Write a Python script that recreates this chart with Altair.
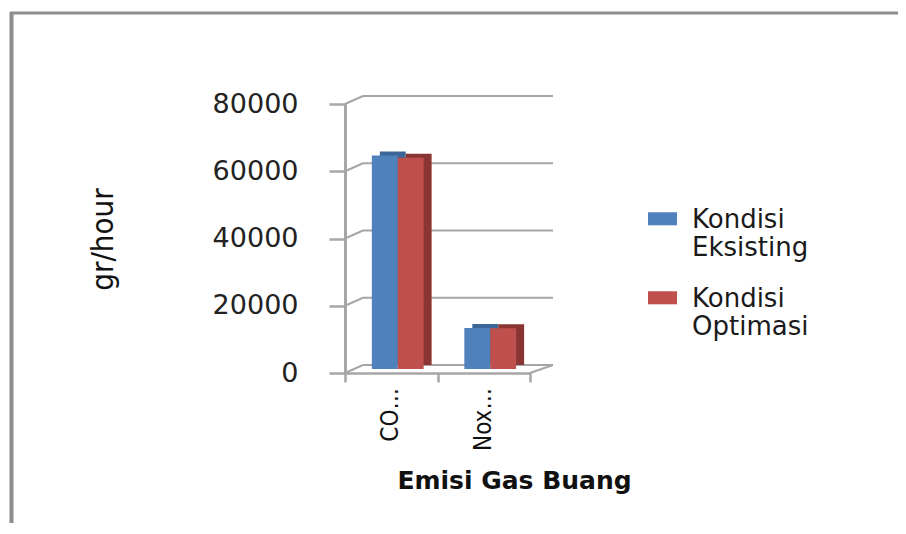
import altair as alt
import pandas as pd

# ---- data ----
categories = ["CO…", "Nox…"]
series = ["Kondisi Eksisting", "Kondisi Optimasi"]
eksisting = [63500, 12200]
optimasi = [62800, 12100]
y_ticks = [0, 20000, 40000, 60000, 80000]

rows = []
for ci, c in enumerate(categories):
    for si, (s, vals) in enumerate(zip(series, [eksisting, optimasi])):
        rows.append({"cat": c, "cat_idx": ci, "series": s, "series_idx": si, "value": vals[ci]})
df = pd.DataFrame(rows)
cat_df = pd.DataFrame({"cat": categories, "cat_idx": list(range(len(categories)))})
tick_df = pd.DataFrame({"tick": y_ticks})

W, H = 185, 269
GRID = "#a6a6a6"
NARROW = "Liberation Sans Narrow, DejaVu Sans Condensed, Roboto, sans-serif"
WIDE = "DejaVu Sans, Verdana, sans-serif"

yscale = alt.Scale(domain=[0, 80000], nice=False)
xscale = alt.Scale(domain=[0, 2], nice=False, zero=False)

yax = alt.Axis(
    values=y_ticks, grid=False, tickSize=16, tickColor=GRID, tickWidth=2.5,
    domainColor=GRID, domainWidth=3, labelFont=WIDE, labelFontSize=27,
    labelColor="#222", labelPadding=31, format="d",
    title="gr/hour", titleFont=NARROW, titleFontSize=31, titleFontWeight="normal",
    titleColor="#111", titleAngle=270, titleX=-242, titleY=135,
    titleAlign="center", titleBaseline="middle",
)
xax = alt.Axis(
    values=[0, 1, 2], labels=False, grid=False, ticks=True, tickSize=9,
    tickColor=GRID, tickWidth=2.5, domainColor=GRID, domainWidth=2.5,
    title="Emisi Gas Buang", titleFont=WIDE, titleFontSize=25, titleFontWeight="bold",
    titleColor="#111", titleX=169, titleY=115, titleAlign="center", titleBaseline="alphabetic",
)

base = alt.Chart(df).transform_calculate(
    x0="datum.cat_idx + 0.29 + datum.series_idx * 0.28",
    x1="datum.cat_idx + 0.29 + datum.series_idx * 0.28 + 0.28",
)

# back wall gridlines
grid = alt.Chart(tick_df).mark_rule(color=GRID, strokeWidth=2, yOffset=-8).encode(
    y=alt.Y("tick:Q", scale=yscale, axis=yax),
    x=alt.value(18),
    x2=alt.value(208),
)
# slanted connectors from front axis to back wall
conn = alt.Chart(tick_df).mark_rule(color=GRID, strokeWidth=2, y2Offset=-8).encode(
    y=alt.Y("tick:Q", scale=yscale, axis=yax),
    y2=alt.Y2("tick:Q"),
    x=alt.value(0),
    x2=alt.value(18),
)
# floor right edge
floor_edge = alt.Chart(tick_df).transform_filter("datum.tick == 0").mark_rule(
    color=GRID, strokeWidth=2, y2Offset=-8
).encode(
    y=alt.Y("tick:Q", scale=yscale, axis=yax),
    y2=alt.Y2("tick:Q"),
    x=alt.value(W),
    x2=alt.value(208),
)

# 3D depth (side + top faces)
shadow = base.mark_bar(xOffset=8, x2Offset=8, yOffset=-8, y2Offset=-8).encode(
    x=alt.X("x0:Q", scale=xscale, axis=xax),
    x2="x1:Q",
    y=alt.Y("value:Q", scale=yscale, axis=yax),
    y2=alt.datum(0),
    color=alt.Color("series:N", scale=alt.Scale(domain=series, range=["#3d6698", "#8a3533"]), legend=None),
)

front = base.mark_bar(yOffset=-4, y2Offset=-4).encode(
    x=alt.X("x0:Q", scale=xscale, axis=xax),
    x2="x1:Q",
    y=alt.Y("value:Q", scale=yscale, axis=yax),
    y2=alt.datum(0),
    color=alt.Color(
        "series:N",
        scale=alt.Scale(domain=series, range=["#4f81bd", "#c0504d"]),
        legend=alt.Legend(
            title=None, orient="none", legendX=303, legendY=101,
            symbolType="M-1,-0.5H1V0.4H-1Z", symbolSize=841, symbolStrokeWidth=0,
            labelExpr="split(datum.label, ' ')", labelFont=WIDE, labelFontSize=26,
            labelColor="#1a1a1a", labelBaseline="middle", labelOffset=15, labelLimit=400,
            rowPadding=23, padding=0,
        ),
    ),
)

labels = alt.Chart(cat_df).transform_calculate(xc="datum.cat_idx + 0.5").mark_text(
    angle=270, align="right", baseline="middle", font=NARROW, fontSize=24, color="#111"
).encode(
    x=alt.X("xc:Q", scale=xscale, axis=xax),
    y=alt.value(284),
    text="cat:N",
)

# outer chart frame (Excel chart area border)
frame_left = alt.Chart(tick_df).transform_filter("datum.tick == 0").mark_rule(
    color="#8c8c8c", strokeWidth=4
).encode(x=alt.value(-333.5), y=alt.value(-92), y2=alt.value(440))
frame_top = alt.Chart(tick_df).transform_filter("datum.tick == 0").mark_rule(
    color="#8c8c8c", strokeWidth=3
).encode(x=alt.value(-335), x2=alt.value(570), y=alt.value(-91))

chart = alt.layer(
    grid, conn, floor_edge, shadow, front, labels, frame_left, frame_top
).resolve_scale(color="independent").properties(
    width=W, height=H,
    autosize=alt.AutoSizeParams(type="none"),
    padding={"left": 337, "top": 96, "right": 368, "bottom": 150},
).configure_view(stroke=None)

chart.save("out.html", embed_options={"renderer": "svg", "actions": False})
